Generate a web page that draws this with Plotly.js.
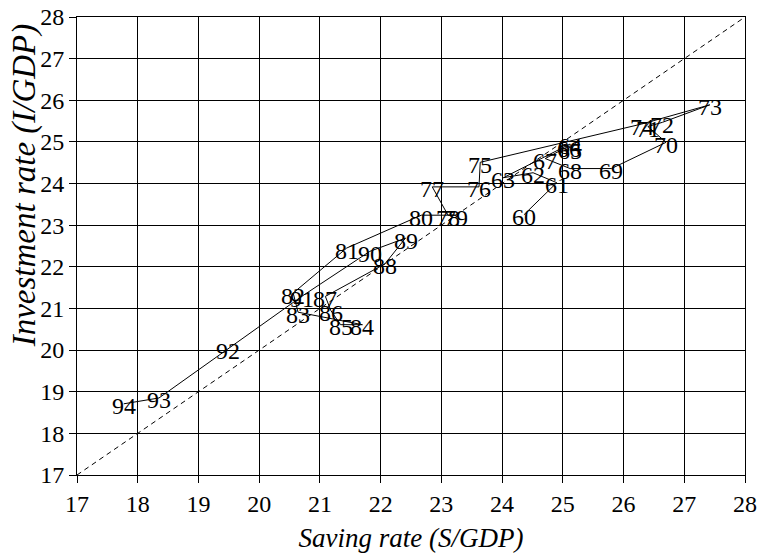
<!DOCTYPE html>
<html>
<head>
<meta charset="utf-8">
<script src="https://cdn.plot.ly/plotly-3.0.1.min.js"></script>
<style>
html, body { margin: 0; padding: 0; background: #ffffff; }
#chart { width: 758px; height: 554px; }
</style>
</head>
<body>
<div id="chart"></div>
<script>
// Year labels (19xx)
const years = ['60','61','62','63','64','65','66','67','68','69',
               '70','71','72','73','74','75','76','77','78','79',
               '80','81','82','83','84','85','86','87','88','89',
               '90','91','92','93','94'];

// Saving rate (S/GDP), %
const savingRate = [24.36, 24.90, 24.51, 24.02, 25.12, 25.12, 25.10, 24.71, 25.12, 25.80,
                    26.70, 26.40, 26.64, 27.42, 26.30, 23.64, 23.62, 22.85, 23.11, 23.24,
                    22.67, 21.44, 20.56, 20.64, 21.70, 21.34, 21.18, 21.09, 22.07, 22.41,
                    21.82, 20.70, 19.49, 18.35, 17.77];

// Investment rate (I/GDP), %
const investmentRate = [23.25, 24.02, 24.26, 24.14, 24.95, 24.85, 24.90, 24.60, 24.36, 24.36,
                        24.99, 25.37, 25.47, 25.89, 25.43, 24.51, 23.92, 23.92, 23.24, 23.24,
                        23.24, 22.45, 21.37, 20.91, 20.61, 20.61, 20.95, 21.29, 22.07, 22.69,
                        22.37, 21.29, 20.03, 18.85, 18.71];

// 45-degree reference line (S = I)
const diagonal = [17, 28];

// Axis ticks
const tickValues = [17, 18, 19, 20, 21, 22, 23, 24, 25, 26, 27, 28];

const xTitle = 'Saving rate (S/GDP)';
const yTitle = 'Investment rate (I/GDP)';

const serifFamily = 'Liberation Serif';

const traces = [
  {
    x: diagonal, y: diagonal, type: 'scatter', mode: 'lines',
    line: { color: '#000000', width: 1, dash: '5px,4px' },
    hoverinfo: 'skip', showlegend: false
  },
  {
    x: savingRate, y: investmentRate, type: 'scatter', mode: 'lines',
    line: { color: '#000000', width: 1 },
    text: years, hoverinfo: 'text', showlegend: false
  }
];

const labelAnnotations = years.map((t, i) => ({
  x: savingRate[i], y: investmentRate[i], xref: 'x', yref: 'y',
  text: t, showarrow: false, xanchor: 'center', yanchor: 'middle',
  yshift: -2.5,
  font: { family: serifFamily, size: 24, color: '#000000' }
}));

const yTitleAnnotation = {
  xref: 'paper', yref: 'paper', x: -0.079, y: 0.633,
  text: '<i>' + yTitle + '</i>', textangle: -90, showarrow: false,
  xanchor: 'center', yanchor: 'middle',
  font: { family: serifFamily, size: 33, color: '#000000' }
};

function axisSettings() {
  return {
    range: [17, 28], tickmode: 'array', tickvals: tickValues,
    showgrid: true, gridcolor: '#000000', gridwidth: 1,
    zeroline: false, showline: true, linecolor: '#000000', linewidth: 1, mirror: true,
    ticks: 'outside', ticklen: 7, tickwidth: 1, tickcolor: '#000000',
    tickfont: { family: serifFamily, size: 24, color: '#000000' },
    automargin: false, fixedrange: true
  };
}

const xaxis = axisSettings();
xaxis.title = { text: '<i>' + xTitle + '</i>', font: { family: serifFamily, size: 27, color: '#000000' }, standoff: 12 };
const yaxis = axisSettings();

const layout = {
  width: 758, height: 554,
  margin: { l: 77, r: 13, t: 17, b: 79, pad: 0 },
  paper_bgcolor: '#ffffff', plot_bgcolor: '#ffffff',
  font: { family: serifFamily, color: '#000000' },
  showlegend: false,
  xaxis: xaxis,
  yaxis: yaxis,
  annotations: labelAnnotations.concat([yTitleAnnotation])
};

Plotly.newPlot('chart', traces, layout, { displayModeBar: false, staticPlot: true });
</script>
</body>
</html>
